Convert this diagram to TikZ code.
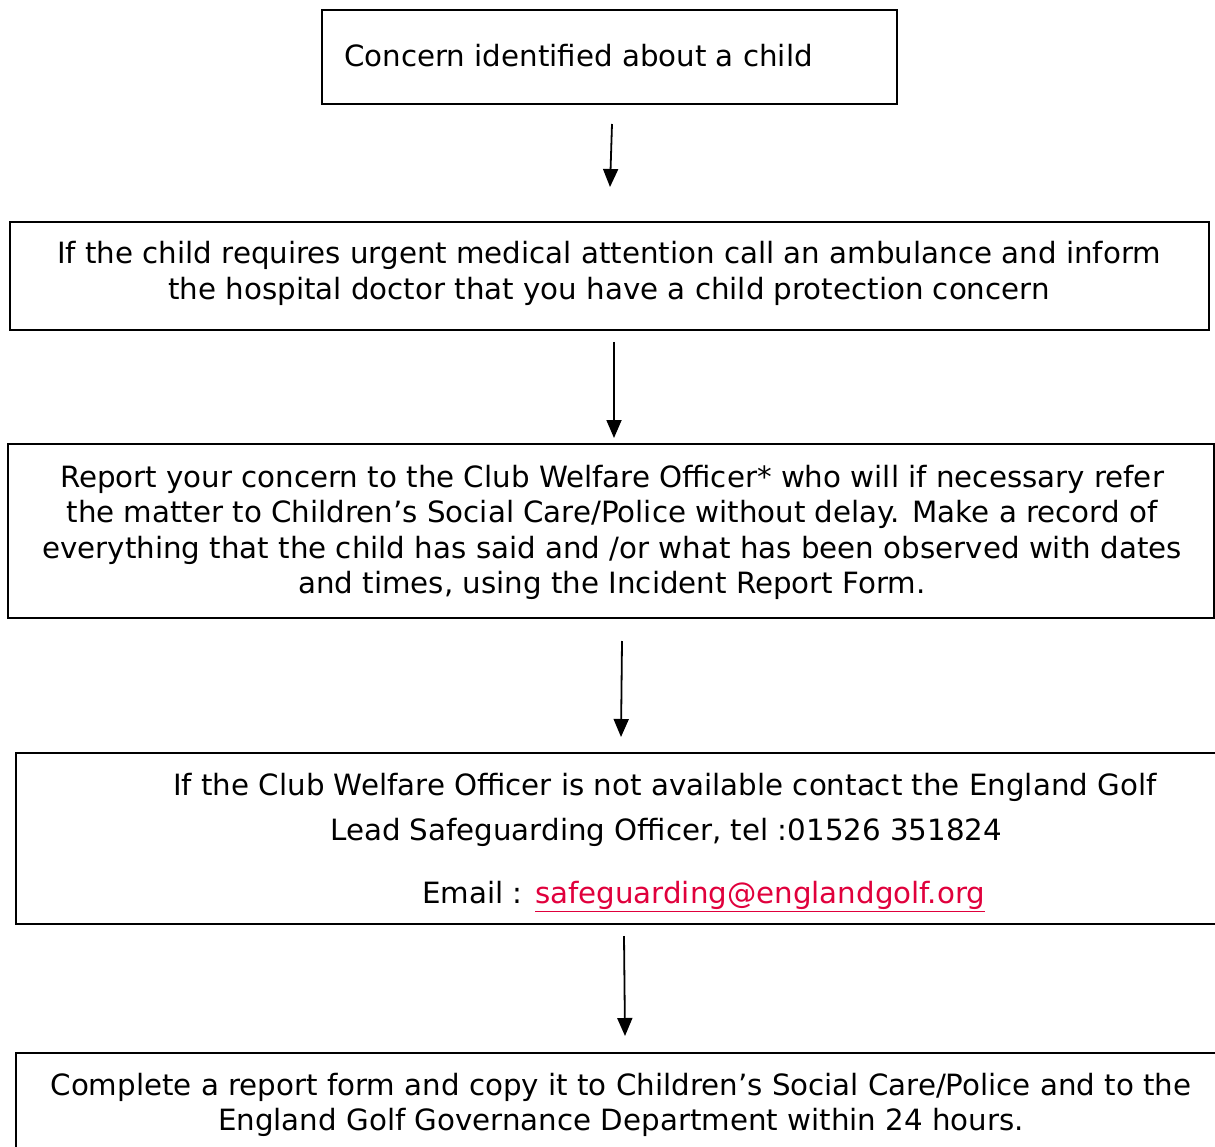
\documentclass[tikz,border=0pt]{standalone}
\usepackage{fontspec}
\setmainfont{DejaVu Sans}
\usetikzlibrary{arrows.meta}
\definecolor{linkred}{RGB}{224,0,60}
\tikzset{
  flowbox/.style={draw=black, line width=2.4pt, inner sep=0pt},
  ctext/.style={inner sep=0pt, anchor=base, font=\fontsize{29.3}{35}\selectfont},
  ltext/.style={inner sep=0pt, anchor=base west, font=\fontsize{29.3}{35}\selectfont},
  flowarrow/.style={line width=1.8pt, -{Triangle[length=18pt,width=15pt]}}
}
\begin{document}
\begin{tikzpicture}[x=1pt,y=-1pt]
\useasboundingbox (0,0) rectangle (1215,1147);
% boxes
\node[flowbox, minimum width=575pt, minimum height=94pt] (b1) at (609.5,57) {};
\node[flowbox, minimum width=1199pt, minimum height=108pt] (b2) at (609.5,276) {};
\node[flowbox, minimum width=1206pt, minimum height=174pt] (b3) at (611,531) {};
\node[flowbox, minimum width=1220pt, minimum height=171pt] (b4) at (626,838.5) {};
\node[flowbox, minimum width=1220pt, minimum height=120pt] (b5) at (626,1113) {};
% texts
\node[ltext] (t1) at (344,67) {Concern identified about a child};
\node[ctext] (t2a) at (609,263.5) {If the child requires urgent medical attention call an ambulance and inform};
\node[ctext] (t2b) at (609,299.5) {the hospital doctor that you have a child protection concern};
\node[ctext] (t3a) at (612,487.5) {Report your concern to the Club Welfare Officer* who will if necessary refer};
\node[ctext] (t3b) at (612,522.5) {the matter to Children’s Social Care/Police without delay. Make a record of};
\node[ctext] (t3c) at (612,558.5) {everything that the child has said and /or what has been observed with dates};
\node[ctext] (t3d) at (612,593.5) {and times, using the Incident Report Form.};
\node[ltext] (t4a) at (173,795.5) {If the Club Welfare Officer is not available contact the England Golf};
\node[ltext] (t4b) at (330,840.5) {Lead Safeguarding Officer, tel :01526 351824};
\node[ltext] (t4c) at (422,903.5) {Email : \textcolor{linkred}{\underline{safeguarding@englandgolf.org}}};
\node[ctext] (t5a) at (621,1095.5) {Complete a report form and copy it to Children’s Social Care/Police and to the};
\node[ctext] (t5b) at (621,1130.5) {England Golf Governance Department within 24 hours.};
% arrows
\coordinate (a1s) at (612,124); \coordinate (a1e) at (610,187);
\coordinate (a2s) at (614,342); \coordinate (a2e) at (614,438);
\coordinate (a3s) at (622,641); \coordinate (a3e) at (621,737);
\coordinate (a4s) at (624,936); \coordinate (a4e) at (625,1036);
\draw[flowarrow] (a1s) -- (a1e);
\draw[flowarrow] (a2s) -- (a2e);
\draw[flowarrow] (a3s) -- (a3e);
\draw[flowarrow] (a4s) -- (a4e);
\end{tikzpicture}
\end{document}
